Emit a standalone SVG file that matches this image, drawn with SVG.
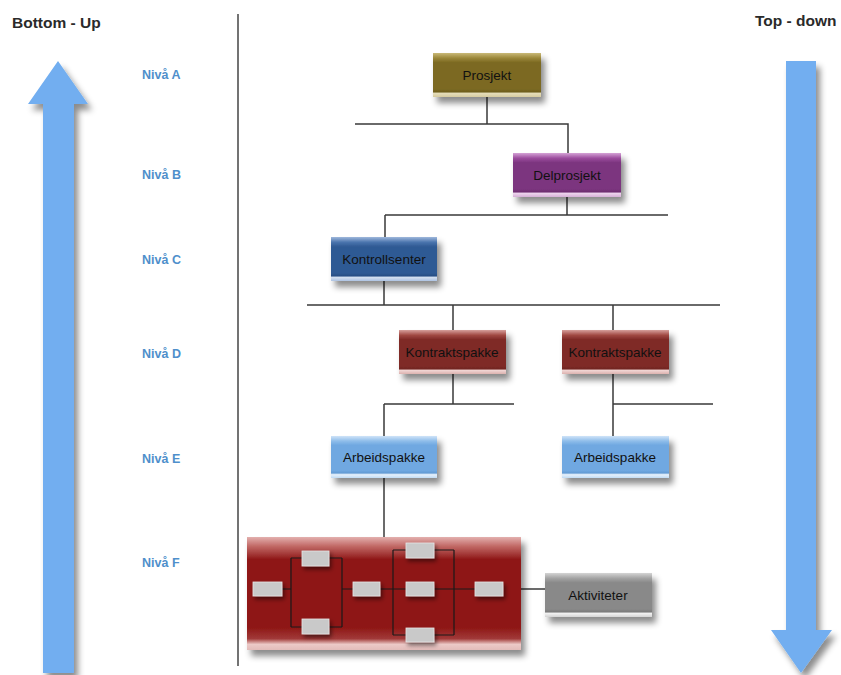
<svg xmlns="http://www.w3.org/2000/svg" width="841" height="675" viewBox="0 0 841 675">
  <defs>
    <filter id="shadow" x="-20%" y="-20%" width="150%" height="160%">
      <feDropShadow dx="4" dy="6" stdDeviation="3" flood-color="#000" flood-opacity="0.45"/>
    </filter>
    <filter id="shadowSmall" x="-30%" y="-30%" width="170%" height="190%">
      <feDropShadow dx="2" dy="3" stdDeviation="2" flood-color="#000" flood-opacity="0.5"/>
    </filter>
    <linearGradient id="gOlive" x1="0" y1="0" x2="0" y2="1">
      <stop offset="0" stop-color="#c9b978"/>
      <stop offset="0.12" stop-color="#9a8638"/>
      <stop offset="0.22" stop-color="#7b6922"/>
      <stop offset="0.82" stop-color="#7b6922"/>
      <stop offset="0.88" stop-color="#6e5e1d"/>
      <stop offset="0.92" stop-color="#e4dcb8"/>
      <stop offset="1" stop-color="#d6cba0"/>
    </linearGradient>
    <linearGradient id="gPurple" x1="0" y1="0" x2="0" y2="1">
      <stop offset="0" stop-color="#d5a2d6"/>
      <stop offset="0.12" stop-color="#9b4c9d"/>
      <stop offset="0.22" stop-color="#7c357f"/>
      <stop offset="0.82" stop-color="#7c357f"/>
      <stop offset="0.88" stop-color="#6e2d71"/>
      <stop offset="0.92" stop-color="#ecd2ec"/>
      <stop offset="1" stop-color="#d6b0d7"/>
    </linearGradient>
    <linearGradient id="gBlue" x1="0" y1="0" x2="0" y2="1">
      <stop offset="0" stop-color="#9fb8dc"/>
      <stop offset="0.12" stop-color="#4a74ad"/>
      <stop offset="0.22" stop-color="#2f5a94"/>
      <stop offset="0.82" stop-color="#2f5a94"/>
      <stop offset="0.88" stop-color="#284f85"/>
      <stop offset="0.92" stop-color="#d2dff0"/>
      <stop offset="1" stop-color="#aec3e2"/>
    </linearGradient>
    <linearGradient id="gRed" x1="0" y1="0" x2="0" y2="1">
      <stop offset="0" stop-color="#d7a09c"/>
      <stop offset="0.12" stop-color="#a04742"/>
      <stop offset="0.22" stop-color="#7f2b27"/>
      <stop offset="0.82" stop-color="#7f2b27"/>
      <stop offset="0.88" stop-color="#722622"/>
      <stop offset="0.92" stop-color="#f0d4d2"/>
      <stop offset="1" stop-color="#dcb2af"/>
    </linearGradient>
    <linearGradient id="gLight" x1="0" y1="0" x2="0" y2="1">
      <stop offset="0" stop-color="#cfe3f8"/>
      <stop offset="0.12" stop-color="#8fbdea"/>
      <stop offset="0.22" stop-color="#6fa8e1"/>
      <stop offset="0.82" stop-color="#6fa8e1"/>
      <stop offset="0.88" stop-color="#639bd4"/>
      <stop offset="0.92" stop-color="#e6f1fc"/>
      <stop offset="1" stop-color="#c2dcf4"/>
    </linearGradient>
    <linearGradient id="gGray" x1="0" y1="0" x2="0" y2="1">
      <stop offset="0" stop-color="#d4d4d4"/>
      <stop offset="0.12" stop-color="#a3a3a3"/>
      <stop offset="0.22" stop-color="#898989"/>
      <stop offset="0.82" stop-color="#898989"/>
      <stop offset="0.88" stop-color="#7c7c7c"/>
      <stop offset="0.92" stop-color="#f0f0f0"/>
      <stop offset="1" stop-color="#d4d4d4"/>
    </linearGradient>
    <linearGradient id="gBig" x1="0" y1="0" x2="0" y2="1">
      <stop offset="0" stop-color="#e3b0ae"/>
      <stop offset="0.08" stop-color="#c26a67"/>
      <stop offset="0.2" stop-color="#8e1616"/>
      <stop offset="0.8" stop-color="#8e1616"/>
      <stop offset="0.9" stop-color="#a13a38"/>
      <stop offset="0.95" stop-color="#ecc9c7"/>
      <stop offset="1" stop-color="#e2bbb9"/>
    </linearGradient>
  </defs>

  <style>
    .title { font-family: "Liberation Sans", Arial, sans-serif; font-size: 15.5px; font-weight: bold; fill: #2a2a2a; }
    .level { font-family: "Liberation Sans", Arial, sans-serif; font-size: 12.5px; font-weight: bold; fill: #4f8fcb; }
    .label { font-family: "Liberation Sans", Arial, sans-serif; font-size: 13.5px; fill: #111; text-anchor: middle; }
    .wire { stroke: #3a3a3a; stroke-width: 1.5; fill: none; }
    .inner { stroke: #1a1a1a; stroke-width: 1.2; fill: none; }
    .chip { fill: #c9c9c9; stroke: #e6e6e6; stroke-width: 0.8; filter: url(#shadowSmall); }
    .arrow { fill: #72aef0; filter: url(#shadow); }
  </style>

  <!-- headings -->
  <text class="title" x="12" y="28">Bottom - Up</text>
  <text class="title" x="755" y="26">Top - down</text>

  <!-- direction arrows -->
  <path class="arrow" d="M58,61 L88,104 L74,104 L74,673 L43,673 L43,104 L28,104 Z"/>
  <path class="arrow" d="M786,61 L816,61 L816,630 L832,630 L801,673 L771,630 L786,630 Z"/>

  <!-- level labels -->
  <g id="levels">
    <text class="level" x="142" y="79">Nivå A</text>
    <text class="level" x="142" y="179">Nivå B</text>
    <text class="level" x="142" y="264">Nivå C</text>
    <text class="level" x="142" y="358">Nivå D</text>
    <text class="level" x="142" y="463">Nivå E</text>
    <text class="level" x="142" y="567">Nivå F</text>
  </g>

  <!-- divider -->
  <line x1="238" y1="14" x2="238" y2="666" stroke="#444" stroke-width="1.5"/>

  <!-- connectors -->
  <g id="connectors">
    <path class="wire" d="M487,97 V124 M355,124 H568 V153"/>
    <path class="wire" d="M567,197 V215 M385,215 H668 M385,215 V237"/>
    <path class="wire" d="M384,281 V305 M307,305 H720 M453,305 V330 M613,305 V330"/>
    <path class="wire" d="M453,374 V404 M384,404 H514 M384,404 V436"/>
    <path class="wire" d="M613,374 V436 M613,404 H713"/>
    <path class="wire" d="M384,478 V537"/>
    <path class="wire" d="M521,589 H545"/>
  </g>

  <!-- nodes -->
  <g id="prosjekt">
    <rect x="433" y="53" width="108" height="44" fill="url(#gOlive)" filter="url(#shadow)"/>
    <text class="label" x="487" y="80">Prosjekt</text>
  </g>
  <g id="delprosjekt">
    <rect x="513" y="153" width="108" height="44" fill="url(#gPurple)" filter="url(#shadow)"/>
    <text class="label" x="567" y="180">Delprosjekt</text>
  </g>
  <g id="kontrollsenter">
    <rect x="331" y="237" width="106" height="44" fill="url(#gBlue)" filter="url(#shadow)"/>
    <text class="label" x="384" y="264">Kontrollsenter</text>
  </g>
  <g id="kontraktspakke-1">
    <rect x="399" y="330" width="107" height="44" fill="url(#gRed)" filter="url(#shadow)"/>
    <text class="label" x="452" y="357">Kontraktspakke</text>
  </g>
  <g id="kontraktspakke-2">
    <rect x="562" y="330" width="107" height="44" fill="url(#gRed)" filter="url(#shadow)"/>
    <text class="label" x="615" y="357">Kontraktspakke</text>
  </g>
  <g id="arbeidspakke-1">
    <rect x="331" y="436" width="106" height="42" fill="url(#gLight)" filter="url(#shadow)"/>
    <text class="label" x="384" y="462">Arbeidspakke</text>
  </g>
  <g id="arbeidspakke-2">
    <rect x="562" y="436" width="107" height="42" fill="url(#gLight)" filter="url(#shadow)"/>
    <text class="label" x="615" y="462">Arbeidspakke</text>
  </g>

  <!-- activity network -->
  <g id="aktivitetsnett">
    <rect x="247" y="537" width="274" height="113" fill="url(#gBig)" filter="url(#shadow)"/>
    <path class="inner" d="M282,589 H291 M291,558 V627 M291,558 H302 M329,558 H342 M291,627 H302 M329,627 H342 M342,558 V627 M342,589 H353"/>
    <path class="inner" d="M380,589 H475 M393,550 V635 M393,550 H406 M434,550 H454 M393,635 H406 M434,635 H454 M454,550 V635"/>
    <rect class="chip" x="253" y="582" width="29" height="14"/>
    <rect class="chip" x="302" y="551" width="27" height="15"/>
    <rect class="chip" x="302" y="619" width="27" height="15"/>
    <rect class="chip" x="353" y="582" width="27" height="14"/>
    <rect class="chip" x="406" y="543" width="28" height="15"/>
    <rect class="chip" x="406" y="582" width="28" height="14"/>
    <rect class="chip" x="406" y="628" width="28" height="14"/>
    <rect class="chip" x="475" y="582" width="28" height="14"/>
  </g>
  <g id="aktiviteter">
    <rect x="545" y="573" width="107" height="44" fill="url(#gGray)" filter="url(#shadow)"/>
    <text class="label" x="598" y="600">Aktiviteter</text>
  </g>
</svg>
